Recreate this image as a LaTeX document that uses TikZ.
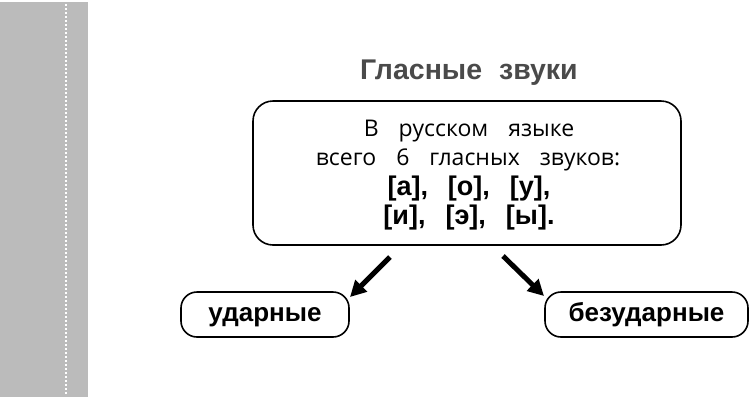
\documentclass[tikz,border=0pt]{standalone}
\usepackage{fontspec}
\setmainfont{Liberation Sans}
\newfontfamily\reg{Open Sans}
\usetikzlibrary{arrows.meta}
\definecolor{band}{HTML}{BBBBBB}
\definecolor{titlegray}{HTML}{4A4A4A}
\tikzset{
  rbox/.style={draw=black, line width=1.6pt, rounded corners=20pt, inner sep=0pt},
  kindbox/.style={draw=black, line width=1.6pt, rounded corners=16pt, inner sep=0pt,
    text height=13pt, text depth=0pt,
    font=\fontsize{26}{30}\selectfont\bfseries},
  regline/.style={font=\reg\fontsize{23}{27}\selectfont, inner sep=0pt},
  boldline/.style={font=\fontsize{27}{31}\selectfont\bfseries, inner sep=0pt},
  bigarrow/.style={line width=5pt, -{Triangle[length=16pt,width=16pt]}},
}
\newcommand{\wsp}{\hspace{20pt}}
\newcommand{\wst}{\hspace{17pt}}
\begin{document}
\begin{tikzpicture}[x=1pt,y=-1pt]
\useasboundingbox (0,0) rectangle (752,400);
\fill[band] (0,2) rectangle (88,397);
\draw[white, line width=2pt, dash pattern=on 2pt off 2pt] (66,4) -- (66,395);
\node[font=\fontsize{28.5}{33}\selectfont\bfseries, text=titlegray, inner sep=0pt] (title) at (469,73) {Гласные\wst звуки};
\node[rbox, minimum width=428pt, minimum height=144pt] (main) at (467,173) {};
\node[regline] (l1) at (469,131) {В\wsp русском\wsp языке};
\node[regline] (l2) at (468,160) {всего\wsp 6\wsp гласных\wsp звуков:};
\node[boldline] (l3) at (469,189) {[а],\wsp [о],\wsp [у],};
\node[boldline] (l4) at (469,218) {[и],\wsp [э],\wsp [ы].};
\node[kindbox, minimum width=168pt, minimum height=45pt] (left) at (265,314.5) {ударные};
\node[kindbox, minimum width=203pt, minimum height=45pt] (right) at (646.5,314.5) {безударные};
\coordinate (lt) at (390,257);
\coordinate (lh) at (350,297);
\coordinate (rt) at (503,256);
\coordinate (rh) at (544,296);
\draw[bigarrow] (lt) -- (lh);
\draw[bigarrow] (rt) -- (rh);
\end{tikzpicture}
\end{document}
